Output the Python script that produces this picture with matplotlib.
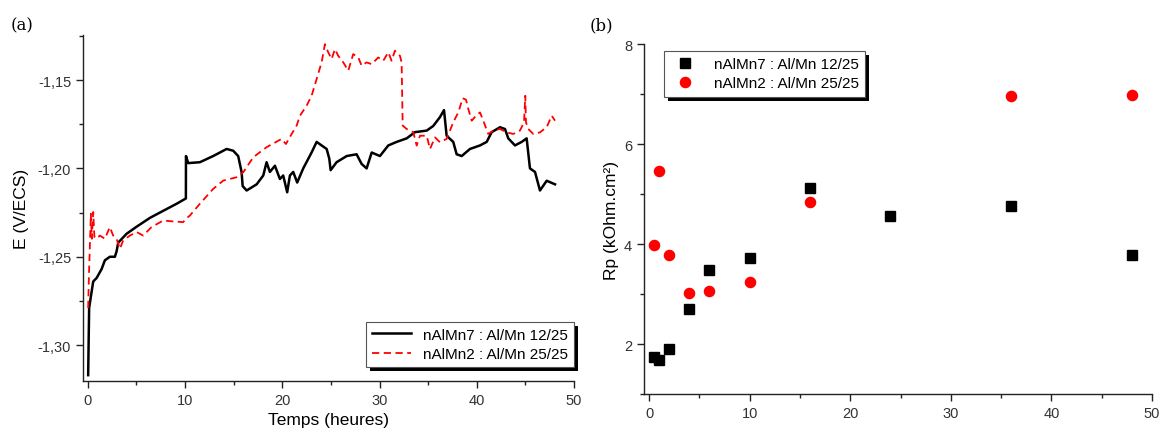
import matplotlib
matplotlib.use("Agg")
import matplotlib.pyplot as plt
from matplotlib.ticker import MultipleLocator, FuncFormatter
from matplotlib.patches import Rectangle
from matplotlib.transforms import IdentityTransform

plt.rcParams['font.family'] = ['Liberation Sans', 'DejaVu Sans']

# (a) open circuit potential vs time
t_n7 = [0.03, 0.13, 0.38, 0.55, 0.90, 1.41, 1.75, 2.26, 2.78, 2.95, 3.12, 3.98,
        5.01, 6.38, 7.75, 9.13, 10.08, 10.09, 10.32, 11.52, 12.89, 14.27, 14.95,
        15.46, 15.81, 15.92, 16.33, 17.36, 18.04, 18.38, 18.72, 19.24, 19.75,
        20.09, 20.50, 20.78, 21.12, 21.53, 22.15, 23.01, 23.53, 24.04, 24.56,
        24.83, 24.97, 25.58, 26.62, 27.64, 28.16, 28.67, 29.19, 30.04, 30.90,
        31.76, 32.79, 33.64, 34.85, 35.52, 36.21, 36.63, 36.90, 37.58, 37.93,
        38.45, 39.30, 40.33, 41.02, 41.53, 42.39, 42.90, 43.24, 43.93, 44.62,
        45.13, 45.47, 45.99, 46.50, 47.19, 48.05]
E_n7 = [-1.317, -1.279, -1.270, -1.264, -1.262, -1.257, -1.252, -1.250, -1.250,
        -1.247, -1.242, -1.237, -1.233, -1.228, -1.224, -1.220, -1.217, -1.193,
        -1.197, -1.1965, -1.193, -1.189, -1.190, -1.193, -1.202, -1.210, -1.2125,
        -1.209, -1.204, -1.1965, -1.202, -1.1985, -1.206, -1.204, -1.2135,
        -1.204, -1.202, -1.208, -1.200, -1.191, -1.185, -1.187, -1.189, -1.1945,
        -1.201, -1.1965, -1.193, -1.192, -1.1975, -1.200, -1.191, -1.193,
        -1.187, -1.185, -1.183, -1.1795, -1.1786, -1.176, -1.171, -1.167,
        -1.1815, -1.185, -1.192, -1.193, -1.189, -1.187, -1.185, -1.1795,
        -1.1767, -1.1777, -1.183, -1.187, -1.185, -1.183, -1.200, -1.202,
        -1.2125, -1.207, -1.209]

t_n2 = [0.03, 0.10, 0.21, 0.31, 0.41, 0.55, 0.67, 0.90, 1.23, 1.75, 2.26, 2.60,
        2.95, 3.29, 3.63, 4.32, 5.01, 5.69, 6.55, 7.75, 8.78, 9.80, 10.08, 10.49,
        11.52, 12.89, 13.92, 15.30, 15.98, 17.01, 18.38, 19.93, 20.37, 20.96,
        21.47, 21.81, 22.50, 23.01, 23.53, 24.04, 24.38, 24.72, 25.07, 25.41,
        25.75, 26.27, 26.78, 27.29, 27.81, 28.16, 28.67, 29.19, 29.87, 30.38,
        30.90, 31.24, 31.58, 32.10, 32.27, 32.38, 32.79, 33.47, 33.82, 34.16,
        34.85, 35.19, 35.70, 36.21, 36.90, 37.58, 38.10, 38.55, 38.89, 39.13,
        39.48, 39.92, 40.33, 40.67, 41.18, 41.70, 42.39, 43.07, 43.76, 44.44,
        44.86, 44.99, 45.06, 45.30, 45.81, 46.50, 47.19, 47.71, 48.05]
E_n2 = [-1.279, -1.2624, -1.2427, -1.2257, -1.2398, -1.2247, -1.2387, -1.2398,
        -1.238, -1.2398, -1.2332, -1.238, -1.2398, -1.2455, -1.2408, -1.238,
        -1.236, -1.238, -1.2332, -1.2295, -1.230, -1.2304, -1.2285, -1.2267,
        -1.220, -1.2116, -1.2069, -1.205, -1.2022, -1.1937, -1.188, -1.1833,
        -1.1862, -1.1805, -1.1758, -1.1702, -1.1645, -1.1589, -1.1494, -1.140,
        -1.1297, -1.1343, -1.1381, -1.1325, -1.1363, -1.140, -1.1447, -1.1353,
        -1.1372, -1.1419, -1.140, -1.141, -1.1372, -1.1391, -1.1343, -1.1391,
        -1.1334, -1.1363, -1.140, -1.1758, -1.1777, -1.1795, -1.1871, -1.1815,
        -1.1815, -1.189, -1.1824, -1.1852, -1.1833, -1.1739, -1.1683, -1.1603,
        -1.1611, -1.1664, -1.173, -1.1702, -1.1683, -1.173, -1.1805, -1.1786,
        -1.1777, -1.1796, -1.1805, -1.1786, -1.1739, -1.1589, -1.1739, -1.1777,
        -1.1805, -1.1796, -1.1767, -1.1702, -1.173]

# (b) polarisation resistance
t_rp = [0.5, 1, 2, 4, 6, 10, 16, 24, 36, 48]
rp_n7 = [1.75, 1.68, 1.90, 2.70, 3.48, 3.72, 5.12, 4.57, 4.77, 3.79]
t_rp2 = [0.5, 1, 2, 4, 6, 10, 16, 36, 48]
rp_n2 = [3.98, 5.47, 3.78, 3.03, 3.06, 3.25, 4.85, 6.96, 6.99]

lab_n7 = 'nAlMn7 : Al/Mn 12/25'
lab_n2 = 'nAlMn2 : Al/Mn 25/25'

fig = plt.figure(figsize=(11.61, 4.31), dpi=100)


def style(ax):
    for s in ['top', 'right']:
        ax.spines[s].set_visible(False)
    for s in ['left', 'bottom']:
        ax.spines[s].set_linewidth(1.0)
        ax.spines[s].set_color('#222222')
    ax.tick_params(which='major', direction='out', length=5, width=1,
                   labelsize=10.5, colors='#222222', labelcolor='#333333')
    ax.tick_params(which='minor', direction='out', length=3, width=1,
                   colors='#222222')


def box_shadow(ax, leg, dx=4, dy=4):
    # solid black drop shadow like the original software draws
    fig.canvas.draw()
    bb = leg.get_window_extent()
    r = Rectangle((bb.x0 + dx, bb.y0 - dy), bb.width, bb.height,
                  transform=IdentityTransform(), facecolor='black',
                  edgecolor='none', zorder=4.9, clip_on=False)
    ax.add_artist(r)


ax1 = fig.add_axes([0.0715, 0.1137, 0.4229, 0.8028])
ax1.plot(t_n7, E_n7, color='black', lw=1.8, label=lab_n7)
ax1.plot(t_n2, E_n2, color='red', lw=1.3, dashes=(4, 2.5), label=lab_n2)
ax1.set_xlim(-0.5, 50)
ax1.set_ylim(-1.3203, -1.1245)
ax1.xaxis.set_major_locator(MultipleLocator(10))
ax1.xaxis.set_minor_locator(MultipleLocator(5))
ax1.yaxis.set_major_locator(MultipleLocator(0.05))
ax1.yaxis.set_minor_locator(MultipleLocator(0.025))
ax1.yaxis.set_major_formatter(FuncFormatter(lambda v, _: f"{v:.2f}".replace('.', ',')))
style(ax1)
ax1.set_xlabel('Temps (heures)', fontsize=12.5)
ax1.set_ylabel('E (V/ECS)', fontsize=12.5, labelpad=6)
leg1 = ax1.legend(loc='lower right', bbox_to_anchor=(1.0, 0.04), borderaxespad=0,
                  fontsize=11, fancybox=False, handlelength=2.5, labelspacing=0.35,
                  edgecolor='#555555', framealpha=1)
leg1.get_frame().set_linewidth(0.8)

ax2 = fig.add_axes([0.5547, 0.0835, 0.4376, 0.812])
ax2.plot(t_rp, rp_n7, 's', color='black', ms=6.5, label=lab_n7)
ax2.plot(t_rp2, rp_n2, 'o', color='red', ms=7.3, label=lab_n2)
ax2.set_xlim(-0.5, 50)
ax2.set_ylim(1, 8)
ax2.xaxis.set_major_locator(MultipleLocator(10))
ax2.xaxis.set_minor_locator(MultipleLocator(5))
ax2.yaxis.set_major_locator(MultipleLocator(2))
ax2.yaxis.set_minor_locator(MultipleLocator(1))
style(ax2)
ax2.set_ylabel('Rp (kOhm.cm²)', fontsize=12.5)
leg2 = ax2.legend(loc='upper left', bbox_to_anchor=(0.039, 0.98), borderaxespad=0,
                  fontsize=11, fancybox=False, handlelength=2.0, labelspacing=0.35,
                  handletextpad=0.9, edgecolor='#555555', framealpha=1)
leg2.get_frame().set_linewidth(0.8)

fig.text(0.009, 0.94, '(a)', fontsize=12, family='DejaVu Serif', va='center')
fig.text(0.508, 0.94, '(b)', fontsize=12, family='DejaVu Serif', va='center')

box_shadow(ax1, leg1)
box_shadow(ax2, leg2)

fig.savefig('out.png', dpi=100)
